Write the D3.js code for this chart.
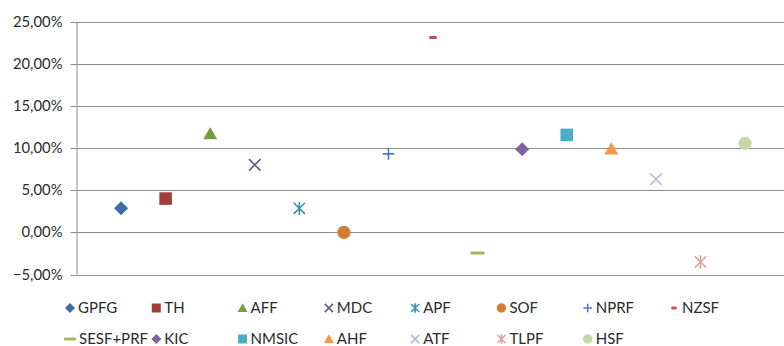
<!DOCTYPE html>
<html>
<head>
<meta charset="utf-8">
<script src="https://cdn.jsdelivr.net/npm/d3@7"></script>
<style>
  html, body { margin: 0; padding: 0; background: #fff; }
  svg { display: block; }
  text { font-family: Lato, "Liberation Sans", sans-serif; fill: #2b2b2b; }
</style>
</head>
<body>
<svg id="chart" width="784" height="346"></svg>
<script>
// Fund names, one series per fund
const funds = ["GPFG", "TH", "AFF", "MDC", "APF", "SOF", "NPRF", "NZSF",
               "SESF+PRF", "KIC", "NMSIC", "AHF", "ATF", "TLPF", "HSF"];
// Return per fund (percent)
const returns = [2.85, 4.0, 11.7, 8.0, 2.85, 0.0, 9.3, 23.1,
                 -2.45, 9.85, 11.55, 9.9, 6.3, -3.5, 10.55];
// Marker shape per fund
const shapes = ["diamond", "square", "triangle", "x", "asterisk", "circle", "plus", "dash",
                "longdash", "diamond", "square", "triangle", "x", "asterisk", "circle"];
// Marker colour per fund
const colors = ["#3E6CA6", "#A43E3B", "#7A9A3E", "#6A5488", "#3A92A8", "#D27C36", "#4A7EC0", "#C8504E",
                "#9BBB59", "#7F62A1", "#4BACC6", "#F79646", "#A9BEDD", "#D9A09E", "#C5D8A6"];
// Y-axis ticks (percent)
const yTicks = [-5, 0, 5, 10, 15, 20, 25];

const svg = d3.select("#chart");
const plotLeft = 76.5, plotRight = 789.6, plotTop = 21.5, plotBottom = 274.5;

const x = d3.scaleLinear().domain([0, funds.length + 1]).range([plotLeft, plotRight]);
const y = d3.scaleLinear().domain([-5, 25]).range([plotBottom, plotTop]);

const fmt = v => d3.format(".2f")(v).replace(".", ",") + "%";

// gridlines
svg.append("g")
  .selectAll("line")
  .data(yTicks)
  .join("line")
  .attr("x1", plotLeft).attr("x2", 784)
  .attr("y1", d => Math.round(y(d)) + 0.5).attr("y2", d => Math.round(y(d)) + 0.5)
  .attr("stroke", "#8c8c8c").attr("stroke-width", 1);

// y axis
const yAxis = d3.axisLeft(y).tickValues(yTicks).tickFormat(fmt).tickSize(6).tickPadding(8);
const ga = svg.append("g").attr("transform", `translate(${plotLeft},0)`).call(yAxis);
ga.select(".domain").attr("stroke", "#8c8c8c").attr("d", `M0.5,${y(25)}V${y(-5)}`);
ga.selectAll(".tick line").attr("stroke", "#8c8c8c").attr("x1", -6).attr("x2", 0);
ga.selectAll(".tick").attr("transform", d => `translate(0,${Math.round(y(d)) + 0.5})`);
ga.selectAll(".tick text")
  .style("font-family", "Lato, 'Liberation Sans', sans-serif")
  .style("font-size", "14.8px")
  .attr("fill", "#2b2b2b")
  .attr("x", -14);

// marker drawing
function drawMarker(g, shape, color, s) {
  const h = s / 2;
  switch (shape) {
    case "diamond":
      g.append("path").attr("d", `M0,${-h}L${h},0L0,${h}L${-h},0Z`).attr("fill", color);
      break;
    case "square":
      g.append("rect").attr("x", -h * 0.9).attr("y", -h * 0.9).attr("width", s * 0.9).attr("height", s * 0.9)
        .attr("fill", color);
      break;
    case "triangle":
      g.append("path").attr("d", `M0,${-h * 0.95}L${h},${h * 0.8}L${-h},${h * 0.8}Z`).attr("fill", color);
      break;
    case "circle":
      g.append("circle").attr("r", h * 0.95).attr("fill", color);
      break;
    case "x": {
      const k = h * 0.82;
      g.append("path").attr("d", `M${-k},${-k}L${k},${k}M${-k},${k}L${k},${-k}`)
        .attr("stroke", color).attr("stroke-width", 1.6).attr("fill", "none");
      break;
    }
    case "asterisk": {
      const k = h * 0.8;
      g.append("path").attr("d", `M${-k},${-k}L${k},${k}M${-k},${k}L${k},${-k}M0,${-h * 0.95}V${h * 0.95}`)
        .attr("stroke", color).attr("stroke-width", 1.6).attr("fill", "none");
      break;
    }
    case "plus": {
      const k = h * 0.85;
      g.append("path").attr("d", `M${-k},0H${k}M0,${-k}V${k}`)
        .attr("stroke", color).attr("stroke-width", 1.6).attr("fill", "none");
      break;
    }
    case "dash":
      g.append("rect").attr("x", -h * 0.55).attr("y", -1.5).attr("width", s * 0.55).attr("height", 3)
        .attr("rx", 1).attr("fill", color);
      break;
    case "longdash":
      g.append("rect").attr("x", -h).attr("y", -1.5).attr("width", s).attr("height", 3)
        .attr("rx", 1).attr("fill", color);
      break;
  }
}

// data points
funds.forEach((f, i) => {
  const g = svg.append("g")
    .attr("class", "point")
    .attr("transform", `translate(${x(i + 1)},${y(returns[i])})`);
  drawMarker(g, shapes[i], colors[i], 14);
});

// legend: two rows of eight columns
const legX = d3.scaleLinear().domain([0, 7]).range([70, 674]);
const legRowY = [308, 339];
funds.forEach((f, i) => {
  const col = i % 8, row = Math.floor(i / 8);
  const g = svg.append("g").attr("transform", `translate(${legX(col)},${legRowY[row]})`);
  drawMarker(g, shapes[i], colors[i], shapes[i] === "longdash" ? 12 : 10);
  g.append("text")
    .attr("x", shapes[i] === "longdash" ? 9 : 8)
    .attr("y", 0)
    .attr("dy", "0.36em")
    .style("font-size", "15px")
    .text(f);
});
</script>
</body>
</html>
